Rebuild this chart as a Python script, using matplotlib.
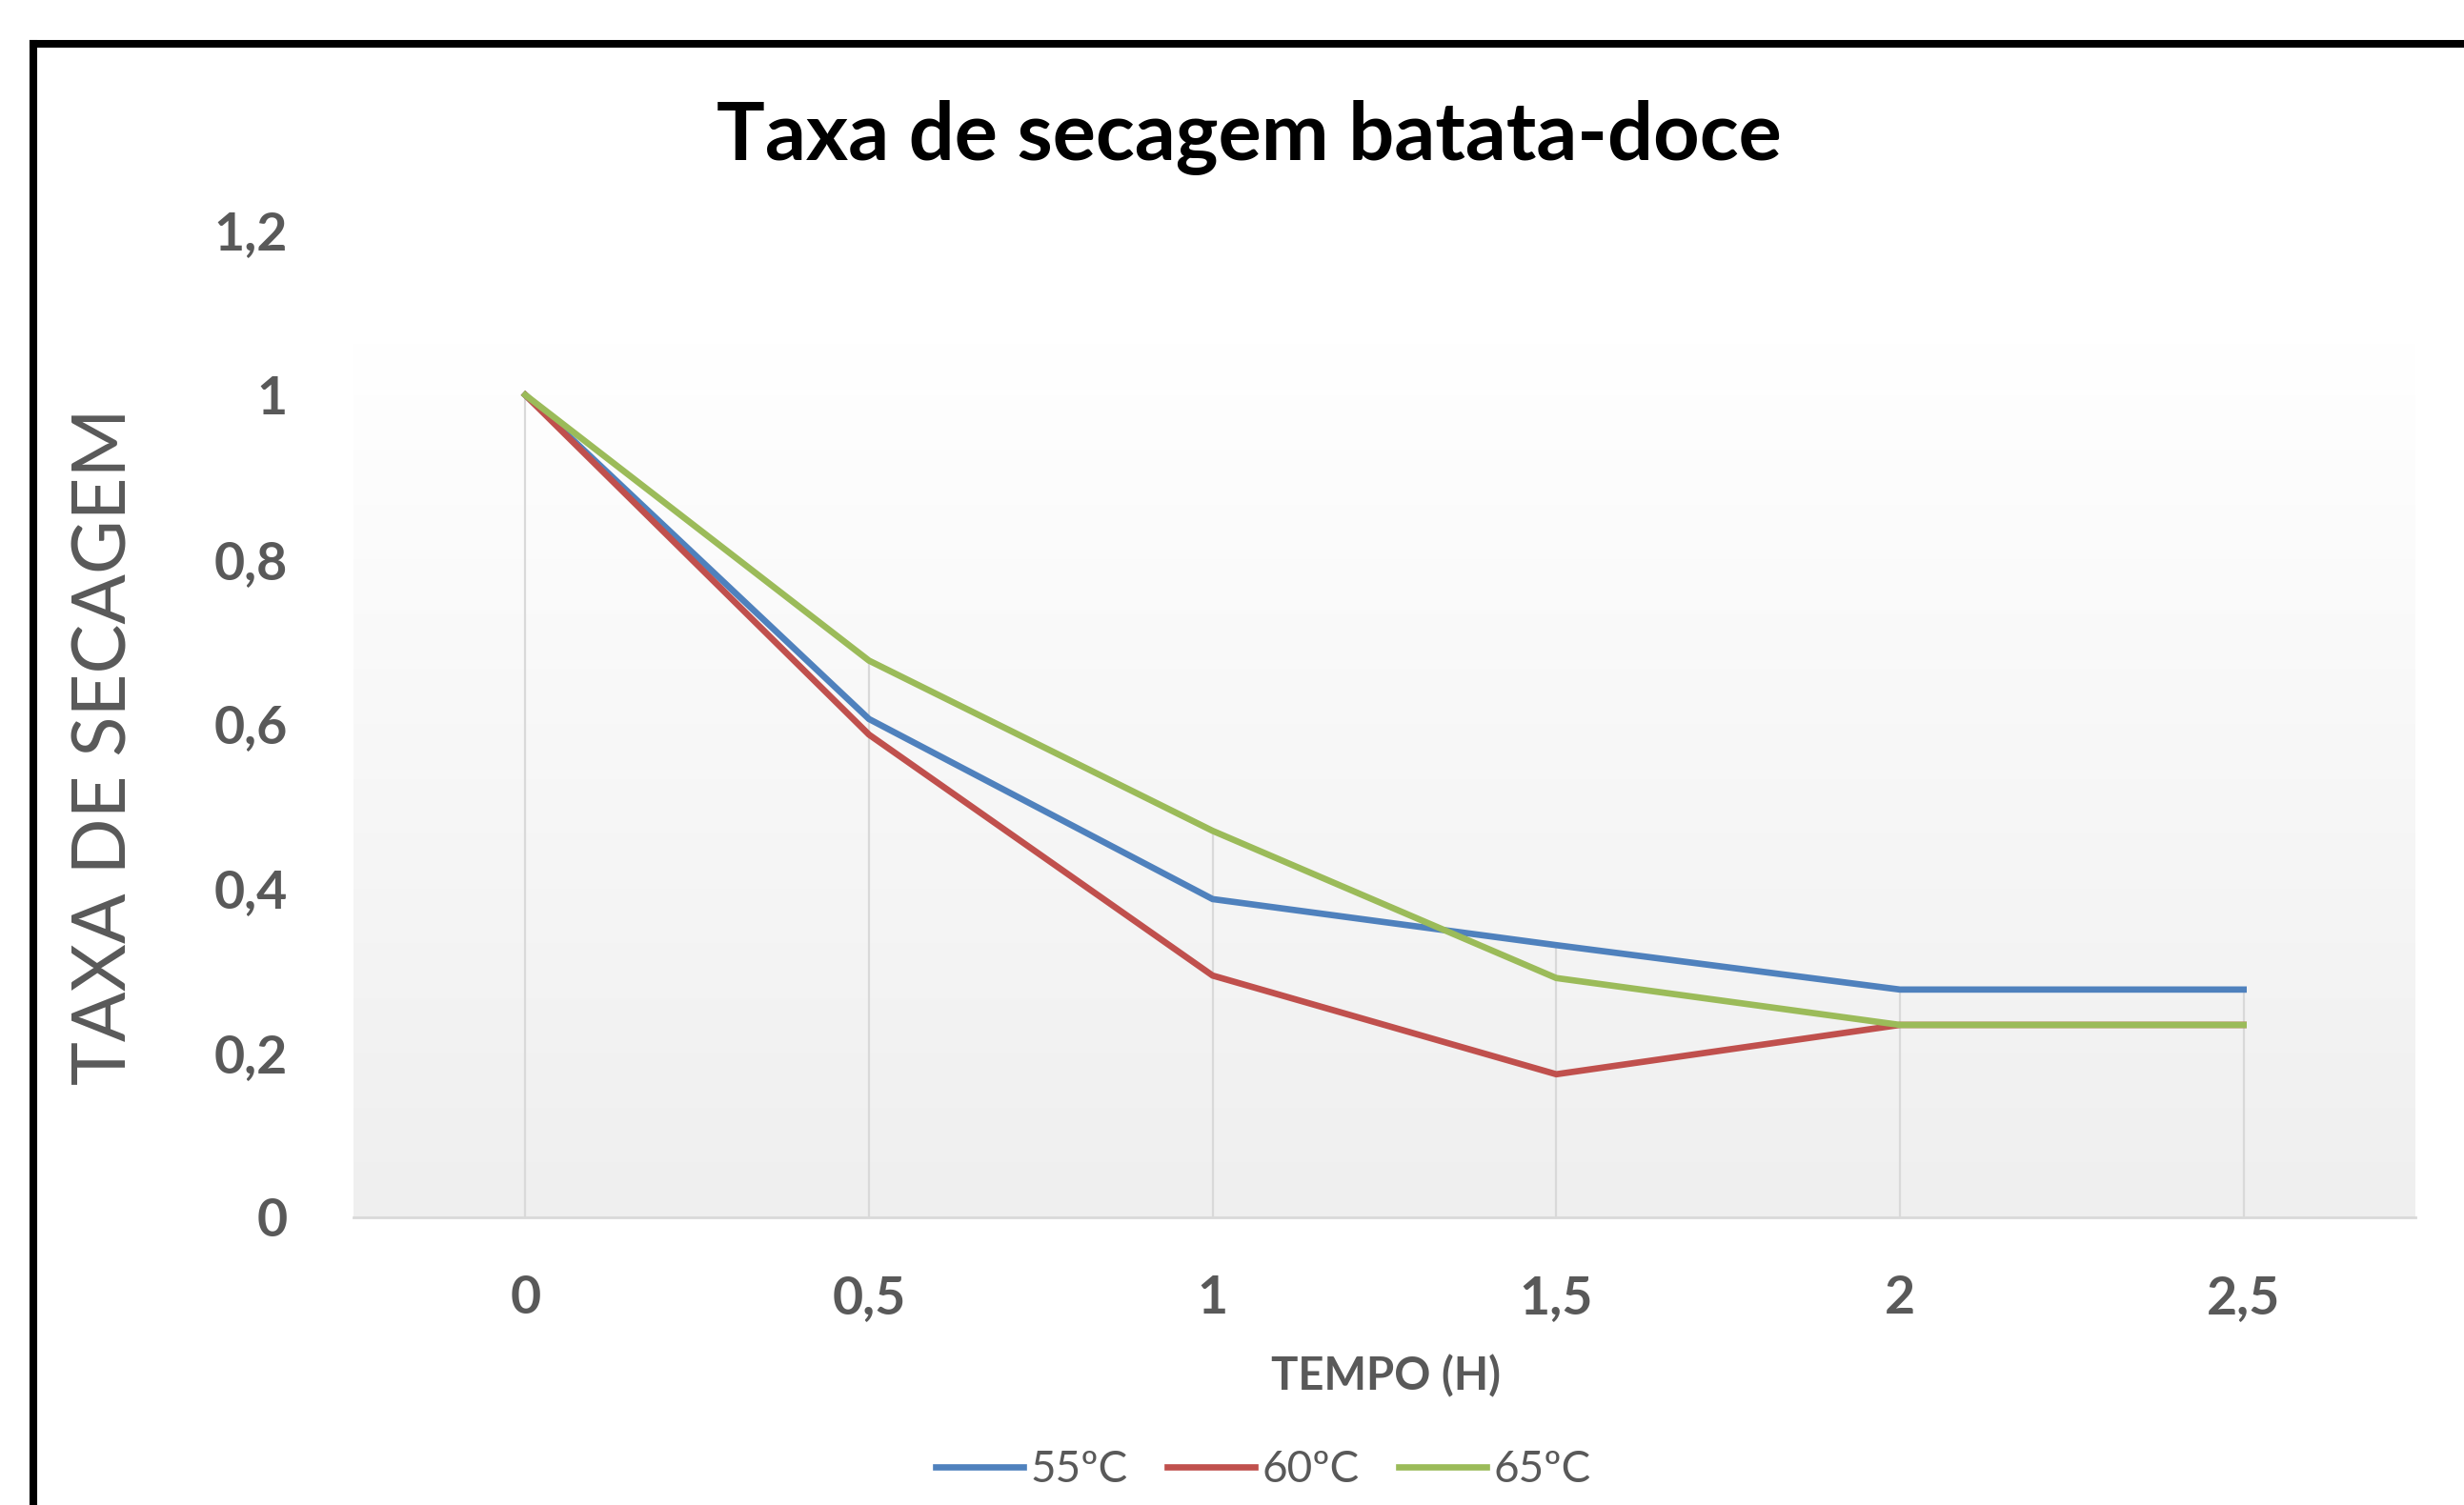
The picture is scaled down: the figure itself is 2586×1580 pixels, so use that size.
import numpy as np
import matplotlib
matplotlib.use("Agg")
import matplotlib.pyplot as plt
from matplotlib.lines import Line2D
from matplotlib.colors import LinearSegmentedColormap

plt.rcParams['font.family'] = ['Lato', 'DejaVu Sans']

# data
tempo = ['0', '0,5', '1', '1,5', '2', '2,5']
taxa_55 = [1.0, 0.606, 0.387, 0.331, 0.277, 0.277]
taxa_60 = [1.0, 0.587, 0.294, 0.174, 0.234, 0.234]
taxa_65 = [1.0, 0.677, 0.470, 0.291, 0.234, 0.234]
series = [('55ºC', taxa_55, '#4F81BD'),
          ('60ºC', taxa_60, '#C0504D'),
          ('65ºC', taxa_65, '#9BBB59')]
y_ticks = [0, 0.2, 0.4, 0.6, 0.8, 1.0, 1.2]
y_labels = ['0', '0,2', '0,4', '0,6', '0,8', '1', '1,2']

W, H = 2586, 1580
fig = plt.figure(figsize=(W / 100, H / 100), dpi=100)
ax = fig.add_axes([371 / W, 1 - 1278 / H, (2535 - 371) / W, (1278 - 242) / H])

x = np.arange(len(tempo))

# gradient background of the plot area
cmap = LinearSegmentedColormap.from_list('bg', ['#efefef', '#ffffff'])
grad = np.linspace(0, 1, 256).reshape(-1, 1)
ax.imshow(grad, extent=[-0.5, 5.5, 0, 1.066], origin='lower', cmap=cmap,
          aspect='auto', zorder=0)

# drop lines
tops = np.max([taxa_55, taxa_60, taxa_65], axis=0)
ax.vlines(x, 0, tops, color='#d9d9d9', lw=1.6, zorder=1)

for name, vals, col in series:
    ax.plot(x, vals, color=col, lw=4.8, label=name, zorder=3,
            solid_joinstyle='miter')

ax.set_xlim(-0.5, 5.5)
ax.set_ylim(0, 1.2)
ax.set_facecolor('none')
for s in ['top', 'right', 'left']:
    ax.spines[s].set_visible(False)
ax.spines['bottom'].set_color('#d9d9d9')
ax.spines['bottom'].set_linewidth(2)

ax.set_xticks(x)
ax.set_xticklabels(tempo)
ax.set_yticks(y_ticks)
ax.set_yticklabels(y_labels)
ax.tick_params(axis='both', length=0, labelsize=40, labelcolor='#595959')
ax.tick_params(axis='x', pad=43)
ax.tick_params(axis='y', pad=50)
for lab in ax.get_xticklabels() + ax.get_yticklabels():
    lab.set_fontweight('bold')

fig.text(1311 / W, 1 - 167 / H, 'Taxa de secagem batata-doce', ha='center',
         va='baseline', fontsize=61, fontweight='bold', color='black')
fig.text(111 / W, 1 - 784 / H, 'TAXA DE SECAGEM', rotation=90, ha='center',
         va='center', fontsize=56, color='#595959')
fig.text(1455 / W, 1 - 1445 / H, 'TEMPO (H)', ha='center', va='center',
         fontsize=34, fontweight='bold', color='#595959')

leg = fig.legend(loc='center', bbox_to_anchor=(1326 / W, 1 - 1543 / H), ncol=3,
                 frameon=False, fontsize=33, handlelength=2.0,
                 handletextpad=0.17, columnspacing=0.9)
for t in leg.get_texts():
    t.set_color('#595959')

# black frame around the chart
fig.add_artist(Line2D([35 / W, 1], [1 - 45.5 / H, 1 - 45.5 / H], color='black',
                      lw=5.8, transform=fig.transFigure, solid_capstyle='projecting'))
fig.add_artist(Line2D([35 / W, 35 / W], [0, 1 - 45.5 / H], color='black',
                      lw=5.8, transform=fig.transFigure, solid_capstyle='projecting'))

fig.savefig('out.png', dpi=100)
